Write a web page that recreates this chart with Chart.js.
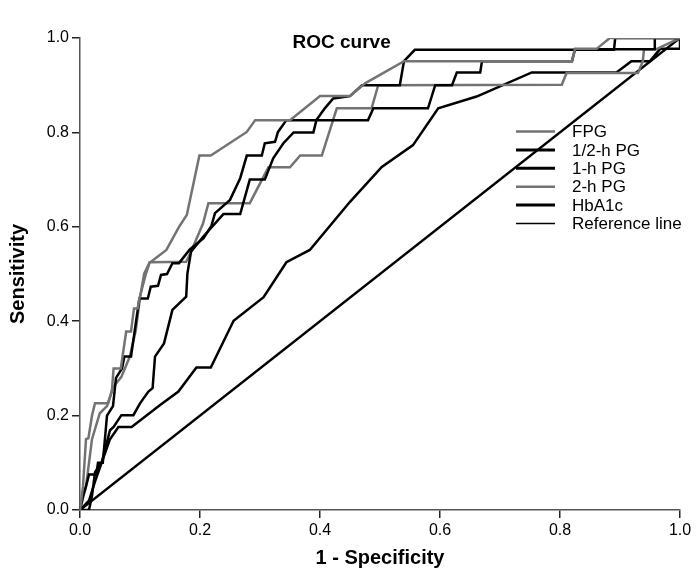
<!DOCTYPE html>
<html>
<head>
<meta charset="utf-8">
<script src="https://cdn.jsdelivr.net/npm/chart.js@4/dist/chart.umd.min.js"></script>
<style>
  html, body { margin: 0; padding: 0; background: #fff; }
  canvas { display: block; }
</style>
</head>
<body>
<canvas id="roc" width="700" height="580"></canvas>
<script>
// ROC points, as [1 - specificity, sensitivity]
const fpg = [[0,0],[0.005,0.05],[0.01,0.15],[0.014,0.152],[0.02,0.2],[0.025,0.226],[0.047,0.226],[0.053,0.251],[0.056,0.3],[0.068,0.3],[0.077,0.378],[0.085,0.378],[0.09,0.427],[0.096,0.427],[0.099,0.448],[0.11,0.501],[0.116,0.524],[0.144,0.551],[0.165,0.6],[0.178,0.625],[0.199,0.751],[0.218,0.751],[0.278,0.801],[0.292,0.826],[0.35,0.826],[0.4,0.877],[0.45,0.877],[0.475,0.904],[0.54,0.951],[0.82,0.951],[0.825,0.977],[0.861,0.977],[0.883,1],[1,1]];
const pgHalf = [[0,0],[0.005,0.03],[0.01,0.05],[0.015,0.075],[0.027,0.075],[0.03,0.1],[0.038,0.1],[0.045,0.2],[0.055,0.22],[0.06,0.28],[0.07,0.3],[0.074,0.325],[0.085,0.325],[0.093,0.396],[0.099,0.448],[0.113,0.448],[0.118,0.473],[0.13,0.475],[0.135,0.498],[0.145,0.5],[0.154,0.523],[0.165,0.523],[0.183,0.552],[0.206,0.576],[0.219,0.602],[0.225,0.629],[0.25,0.657],[0.267,0.703],[0.278,0.751],[0.303,0.751],[0.308,0.777],[0.325,0.78],[0.33,0.801],[0.344,0.826],[0.48,0.826],[0.489,0.851],[0.58,0.851],[0.592,0.9],[0.62,0.9],[0.628,0.927],[0.667,0.927],[0.67,0.951],[0.82,0.951],[0.825,0.976],[0.958,0.976],[0.958,1],[1,1]];
const pg1h = [[0,0],[0.015,0],[0.02,0.03],[0.025,0.08],[0.036,0.1],[0.05,0.169],[0.056,0.176],[0.069,0.201],[0.089,0.201],[0.1,0.226],[0.114,0.251],[0.121,0.258],[0.125,0.325],[0.14,0.353],[0.154,0.424],[0.177,0.452],[0.179,0.501],[0.185,0.547],[0.206,0.58],[0.239,0.627],[0.267,0.627],[0.283,0.7],[0.308,0.7],[0.322,0.745],[0.339,0.777],[0.356,0.8],[0.389,0.8],[0.394,0.826],[0.408,0.851],[0.422,0.872],[0.45,0.877],[0.47,0.9],[0.533,0.9],[0.54,0.951],[0.558,0.975],[0.89,0.975],[0.892,1],[1,1]];
const pg2h = [[0,0],[0.01,0.05],[0.015,0.1],[0.02,0.15],[0.033,0.205],[0.045,0.22],[0.055,0.26],[0.069,0.282],[0.083,0.325],[0.088,0.353],[0.093,0.381],[0.1,0.45],[0.107,0.501],[0.116,0.525],[0.177,0.526],[0.185,0.547],[0.205,0.607],[0.214,0.65],[0.283,0.65],[0.314,0.726],[0.35,0.726],[0.367,0.751],[0.403,0.751],[0.428,0.851],[0.486,0.851],[0.497,0.9],[0.803,0.901],[0.811,0.926],[0.93,0.926],[0.938,0.951],[0.94,0.976],[0.96,0.976],[1,1]];
const hba1c = [[0,0],[0.015,0.02],[0.025,0.06],[0.036,0.1],[0.05,0.15],[0.064,0.176],[0.086,0.176],[0.133,0.222],[0.164,0.251],[0.194,0.302],[0.218,0.302],[0.256,0.401],[0.306,0.451],[0.344,0.525],[0.383,0.551],[0.45,0.653],[0.503,0.727],[0.555,0.773],[0.597,0.851],[0.661,0.876],[0.753,0.927],[0.894,0.927],[0.919,0.951],[0.95,0.951],[0.967,0.977],[1,0.977],[1,1]];
const refLine = [[0,0],[1,1]];

const seriesNames = ["FPG", "1/2-h PG", "1-h PG", "2-h PG", "HbA1c", "Reference line"];
const tickValues = [0, 0.2, 0.4, 0.6, 0.8, 1.0];
const tickLabels = ["0.0", "0.2", "0.4", "0.6", "0.8", "1.0"];

const GRAY = "#737373";
const BLACK = "#000000";
const FONT = "'Liberation Sans', Arial, sans-serif";

const toPts = (arr) => arr.map(([x, y]) => ({ x, y }));

const makeSet = (label, pts, color, width, legendWidth) => ({
  label,
  data: toPts(pts),
  borderColor: color,
  backgroundColor: color,
  borderWidth: width,
  legendWidth,
  showLine: true,
  fill: false,
  tension: 0,
  pointRadius: 0,
  pointHoverRadius: 0,
});

// title and legend sit inside the plot area, so draw them here
const overlay = {
  id: "overlay",
  afterDraw(chart) {
    const ctx = chart.ctx;
    const xs = chart.scales.x;
    ctx.save();
    ctx.fillStyle = "#000";
    ctx.font = "bold 19px " + FONT;
    ctx.textAlign = "center";
    ctx.textBaseline = "middle";
    ctx.fillText("ROC curve", xs.getPixelForValue(0.436), 43);

    ctx.font = "17px " + FONT;
    ctx.textAlign = "left";
    chart.data.datasets.forEach((ds, i) => {
      const y = 131.5 + i * 18.4;
      ctx.beginPath();
      ctx.strokeStyle = ds.borderColor;
      ctx.lineWidth = ds.legendWidth;
      ctx.moveTo(516, y);
      ctx.lineTo(555, y);
      ctx.stroke();
      ctx.fillText(ds.label, 572, y + 1);
    });
    ctx.restore();
  },
};

const axisTick = (v) => {
  const i = tickValues.findIndex((t) => Math.abs(t - v) < 1e-6);
  return i >= 0 ? tickLabels[i] : "";
};

new Chart(document.getElementById("roc"), {
  type: "scatter",
  data: {
    datasets: [
      makeSet(seriesNames[0], fpg, GRAY, 2.5, 2.5),
      makeSet(seriesNames[1], pgHalf, BLACK, 2.5, 3),
      makeSet(seriesNames[2], pg1h, BLACK, 2.5, 3),
      makeSet(seriesNames[3], pg2h, GRAY, 2.5, 2.5),
      makeSet(seriesNames[4], hba1c, BLACK, 2.5, 3),
      makeSet(seriesNames[5], refLine, BLACK, 2.5, 1.5),
    ],
  },
  options: {
    responsive: false,
    animation: false,
    layout: { padding: { left: 0, right: 20, top: 38, bottom: 0 } },
    plugins: {
      legend: { display: false },
      title: { display: false },
      tooltip: { enabled: false },
    },
    scales: {
      x: {
        type: "linear",
        min: 0,
        max: 1,
        afterBuildTicks: (s) => { s.ticks = tickValues.map((v) => ({ value: v })); },
        afterFit: (s) => { s.height = 70; },
        border: { display: true, color: "#555", width: 1.5 },
        grid: { display: true, drawOnChartArea: false, drawTicks: true, tickLength: 8, color: "#222", lineWidth: 1.5 },
        ticks: { color: "#000", padding: 3, maxRotation: 0, font: { family: FONT, size: 16 }, callback: axisTick },
        title: { display: true, text: "1 - Specificity", color: "#000", font: { family: FONT, size: 20, weight: "bold" }, padding: { top: 0, bottom: 10 } },
      },
      y: {
        type: "linear",
        min: 0,
        max: 1,
        afterBuildTicks: (s) => { s.ticks = tickValues.map((v) => ({ value: v })); },
        afterFit: (s) => { s.width = 80; },
        border: { display: true, color: "#555", width: 1.5 },
        grid: { display: true, drawOnChartArea: false, drawTicks: true, tickLength: 8, color: "#222", lineWidth: 1.5 },
        ticks: { color: "#000", padding: 3, font: { family: FONT, size: 16 }, callback: axisTick },
        title: { display: true, text: "Sensitivity", color: "#000", font: { family: FONT, size: 20, weight: "bold" }, padding: { top: 6, bottom: 0 } },
      },
    },
  },
  plugins: [overlay],
});
</script>
</body>
</html>
